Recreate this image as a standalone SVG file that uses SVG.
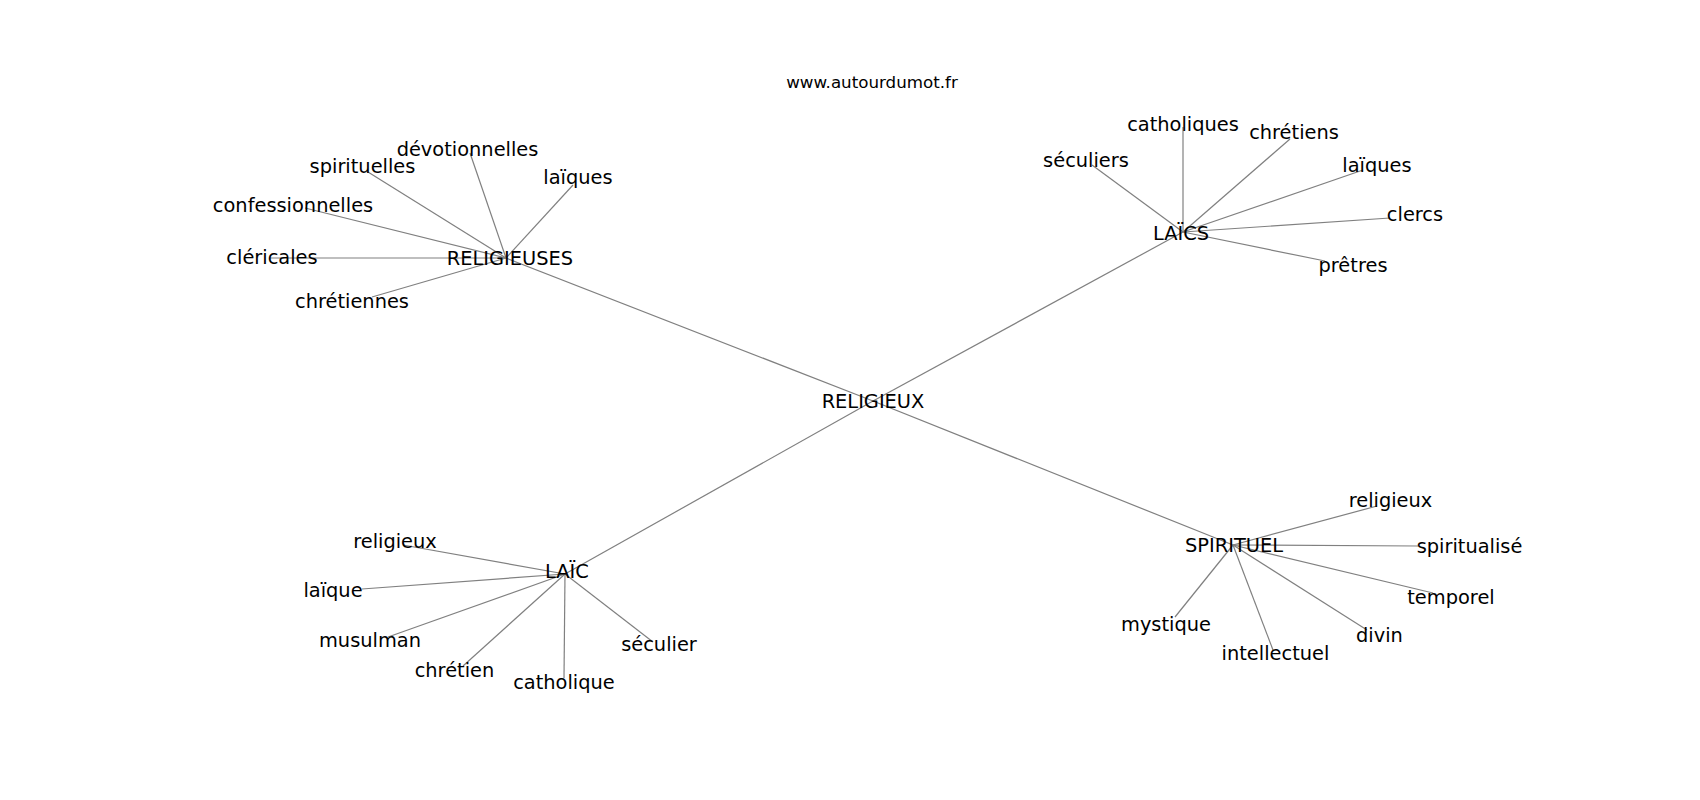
<svg xmlns="http://www.w3.org/2000/svg" width="1700" height="800" viewBox="0 0 1700 800">
<style>
text{font-family:"DejaVu Sans","Liberation Sans",sans-serif;fill:#000;text-anchor:middle}
.lbl{font-size:19.4px}
.title{font-size:16.7px}
#edges line{stroke:#808080;stroke-width:1.2}
</style>
<rect width="1700" height="800" fill="#fff"/>
<g id="edges">
<line x1="873" y1="401" x2="506" y2="258"/>
<line x1="873" y1="401" x2="1183" y2="232"/>
<line x1="873" y1="401" x2="565" y2="574"/>
<line x1="873" y1="401" x2="1233" y2="545"/>
<line x1="506" y1="258" x2="470" y2="153"/>
<line x1="506" y1="258" x2="368" y2="172"/>
<line x1="506" y1="258" x2="573" y2="185"/>
<line x1="506" y1="258" x2="305" y2="208"/>
<line x1="506" y1="258" x2="270" y2="258"/>
<line x1="506" y1="258" x2="372" y2="297"/>
<line x1="1183" y1="232" x2="1183" y2="127"/>
<line x1="1183" y1="232" x2="1290" y2="139"/>
<line x1="1183" y1="232" x2="1092" y2="165"/>
<line x1="1183" y1="232" x2="1363" y2="170"/>
<line x1="1183" y1="232" x2="1390" y2="218"/>
<line x1="1183" y1="232" x2="1325" y2="261"/>
<line x1="565" y1="574" x2="403" y2="545"/>
<line x1="565" y1="574" x2="362" y2="589"/>
<line x1="565" y1="574" x2="388" y2="637"/>
<line x1="565" y1="574" x2="463" y2="666"/>
<line x1="565" y1="574" x2="564" y2="678"/>
<line x1="565" y1="574" x2="653" y2="642"/>
<line x1="1233" y1="545" x2="1377" y2="506"/>
<line x1="1233" y1="545" x2="1418" y2="546"/>
<line x1="1233" y1="545" x2="1433" y2="593"/>
<line x1="1233" y1="545" x2="1367" y2="630"/>
<line x1="1233" y1="545" x2="1273" y2="650"/>
<line x1="1233" y1="545" x2="1175" y2="617"/>
</g>
<text class="title" x="872" y="88">www.autourdumot.fr</text>
<g id="n-religieux"><text class="lbl" x="873" y="408">RELIGIEUX</text></g>
<g id="n-religieuses"><text class="lbl" x="510" y="265">RELIGIEUSES</text></g>
<g id="n-laics"><text class="lbl" x="1181" y="240">LAÏCS</text></g>
<g id="n-laic"><text class="lbl" x="567" y="578">LAÏC</text></g>
<g id="n-spirituel"><text class="lbl" x="1234" y="552">SPIRITUEL</text></g>
<g id="n-devotionnelles"><text class="lbl" x="467.5" y="156">dévotionnelles</text></g>
<g id="n-spirituelles"><text class="lbl" x="362.5" y="173">spirituelles</text></g>
<g id="n-laiques1"><text class="lbl" x="578" y="184">laïques</text></g>
<g id="n-confessionnelles"><text class="lbl" x="293" y="212">confessionnelles</text></g>
<g id="n-clericales"><text class="lbl" x="272" y="264">cléricales</text></g>
<g id="n-chretiennes"><text class="lbl" x="352" y="308">chrétiennes</text></g>
<g id="n-catholiques"><text class="lbl" x="1183" y="131">catholiques</text></g>
<g id="n-chretiens"><text class="lbl" x="1294" y="139">chrétiens</text></g>
<g id="n-seculiers"><text class="lbl" x="1086" y="167">séculiers</text></g>
<g id="n-laiques2"><text class="lbl" x="1377" y="172">laïques</text></g>
<g id="n-clercs"><text class="lbl" x="1415" y="221">clercs</text></g>
<g id="n-pretres"><text class="lbl" x="1353" y="272">prêtres</text></g>
<g id="n-religieux2"><text class="lbl" x="395" y="548">religieux</text></g>
<g id="n-laique"><text class="lbl" x="333" y="597">laïque</text></g>
<g id="n-musulman"><text class="lbl" x="370" y="647">musulman</text></g>
<g id="n-chretien"><text class="lbl" x="454.5" y="677">chrétien</text></g>
<g id="n-catholique"><text class="lbl" x="564" y="689">catholique</text></g>
<g id="n-seculier"><text class="lbl" x="659" y="651">séculier</text></g>
<g id="n-religieux3"><text class="lbl" x="1390.5" y="507">religieux</text></g>
<g id="n-spiritualise"><text class="lbl" x="1469.5" y="553">spiritualisé</text></g>
<g id="n-temporel"><text class="lbl" x="1451" y="604">temporel</text></g>
<g id="n-divin"><text class="lbl" x="1379.5" y="642">divin</text></g>
<g id="n-intellectuel"><text class="lbl" x="1275.5" y="660">intellectuel</text></g>
<g id="n-mystique"><text class="lbl" x="1166" y="631">mystique</text></g>
</svg>
